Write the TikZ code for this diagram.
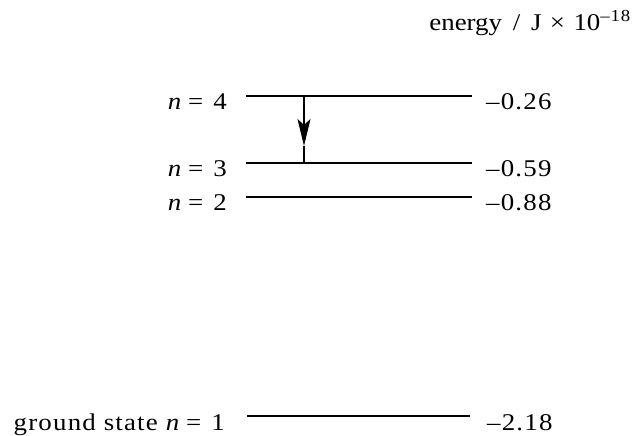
\documentclass[tikz,border=0pt]{standalone}
\usepackage{fontspec}
\setmainfont{Liberation Serif}[FakeStretch=1.12]
\newfontfamily\numfont{Liberation Serif}[FakeStretch=1.12,LetterSpace=5]
\usetikzlibrary{arrows.meta}
\begin{document}
\begin{tikzpicture}[x=1pt,y=-1pt,
  level/.style={line width=1.3pt},
  lab/.style={inner sep=0pt,font=\fontsize{24}{29}\selectfont},
  num/.style={inner sep=0pt,font=\fontsize{24}{29}\numfont}]
\useasboundingbox (0,0) rectangle (635,436);
% energy levels
\coordinate (l4a) at (246,96);  \coordinate (l4b) at (472,96);
\coordinate (l3a) at (246,163); \coordinate (l3b) at (472,163);
\coordinate (l2a) at (246,197); \coordinate (l2b) at (472,197);
\coordinate (l1a) at (247,416); \coordinate (l1b) at (470,416);
\draw[level] (l4a) -- (l4b);
\draw[level] (l3a) -- (l3b);
\draw[level] (l2a) -- (l2b);
\draw[level] (l1a) -- (l1b);
% transition arrow
\coordinate (atop) at (304,96);
\coordinate (atip) at (304,146);
\coordinate (abot) at (304,163);
\draw[level,-{Stealth[length=27pt,width=13pt,inset=6pt]}] (atop) -- (atip);
\draw[level] (atip) -- (abot);
% labels
\node[lab,anchor=base east] (n4) at (227,109.5) {\textit{n}\hspace{7pt}=\hspace{10pt}4};
\node[lab,anchor=base east] (n3) at (227,176.5) {\textit{n}\hspace{7pt}=\hspace{10pt}3};
\node[lab,anchor=base east] (n2) at (227,210.5) {\textit{n}\hspace{7pt}=\hspace{10pt}2};
\node[lab,anchor=base east] (gs) at (225,430.5) {{\numfont ground state }\textit{n}\hspace{7pt}=\hspace{10pt}1};
\node[num,anchor=base west] (e4) at (486,109.5) {–0.26};
\node[num,anchor=base west] (e3) at (486,176.5) {–0.59};
\node[num,anchor=base west] (e2) at (486,210.5) {–0.88};
\node[num,anchor=base west] (e1) at (487,430.5) {–2.18};
\node[lab,anchor=base east] (unit) at (631,31) {energy\hspace{0.45em}/\hspace{0.45em}J\hspace{0.35em}×\hspace{0.35em}10\textsuperscript{\numfont–18}};
\end{tikzpicture}
\end{document}
